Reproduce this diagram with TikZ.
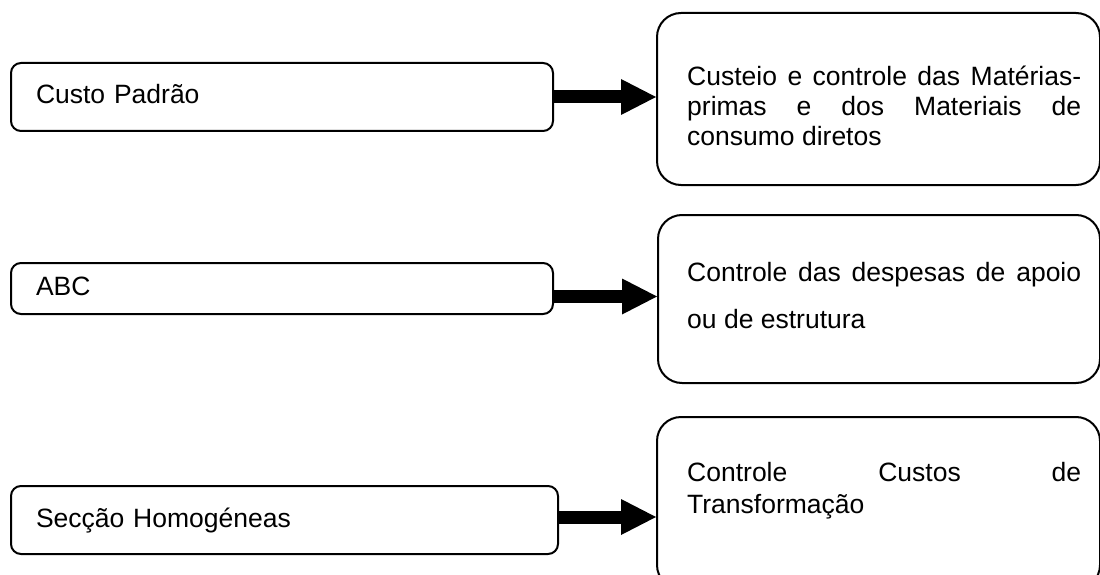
\documentclass[tikz,border=0pt]{standalone}
\usepackage{fontspec}
\setmainfont{Liberation Sans}
\usetikzlibrary{arrows.meta}
% one justified line of a fixed-width paragraph
\newcommand\jline[1]{\hbox to \linewidth{#1}}
\begin{document}
\begin{tikzpicture}[x=1pt,y=-1pt,
  every node/.style={font=\fontsize{26.5}{30}\selectfont},
  frame/.style={draw=black, line width=2pt, fill=white, inner sep=0pt},
  srcbox/.style={frame, rounded corners=10pt, anchor=north west,
    inner xsep=25pt, inner ysep=0pt, align=left,
    text height=19pt, text depth=5pt},
  dstbox/.style={frame, rounded corners=24pt, anchor=north west},
  dsttext/.style={anchor=base west, inner sep=0pt},
  flow/.style={line width=13pt,
    -{Triangle[length=35pt,width=36pt,line width=0pt]}}]
\useasboundingbox (0,0) rectangle (1100,575);

% methods (left column)
\node[srcbox, text width=492pt, minimum height=68pt] (l1) at (10,62) {Custo Padrão};
\node[srcbox, text width=492pt, minimum height=51pt] (l2) at (10,262) {ABC};
\node[srcbox, text width=497pt, minimum height=68pt] (l3) at (10,485) {Secção Homogéneas};

% purposes (right column)
\node[dstbox, minimum width=443pt, minimum height=172pt] (r1) at (656,12) {};
\node[dstbox, minimum width=442pt, minimum height=168pt] (r2) at (657,214) {};
\node[dstbox, minimum width=443pt, minimum height=172pt] (r3) at (656,416) {};

\node[dsttext] (t1) at ([xshift=31pt,yshift=-74pt]r1.north west)
  {\parbox[t]{394pt}{\baselineskip=30pt
   \jline{Custeio\hfill e\hfill controle\hfill das\hfill Matérias-}
   \jline{primas\hfill e\hfill dos\hfill Materiais\hfill de}
   \hbox{consumo diretos}}};
\node[dsttext] (t2) at ([xshift=30pt,yshift=-67pt]r2.north west)
  {\parbox[t]{394pt}{\baselineskip=47pt
   \jline{Controle\hfill das\hfill despesas\hfill de\hfill apoio}
   \hbox{ou de estrutura}}};
\node[dsttext] (t3) at ([xshift=31pt,yshift=-65pt]r3.north west)
  {\parbox[t]{394pt}{\baselineskip=32pt
   \jline{Controle\hfill Custos\hfill de}
   \hbox{Transformação}}};

% thick block arrows
\coordinate (a1) at (l1.east);
\coordinate (a2) at ([yshift=-8pt]l2.east);
\coordinate (a3) at ([yshift=3pt]l3.east);
\draw[flow] (a1) -- (a1 -| r1.west);
\draw[flow] (a2) -- (a2 -| r2.west);
\draw[flow] (a3) -- (a3 -| r3.west);
\end{tikzpicture}
\end{document}
